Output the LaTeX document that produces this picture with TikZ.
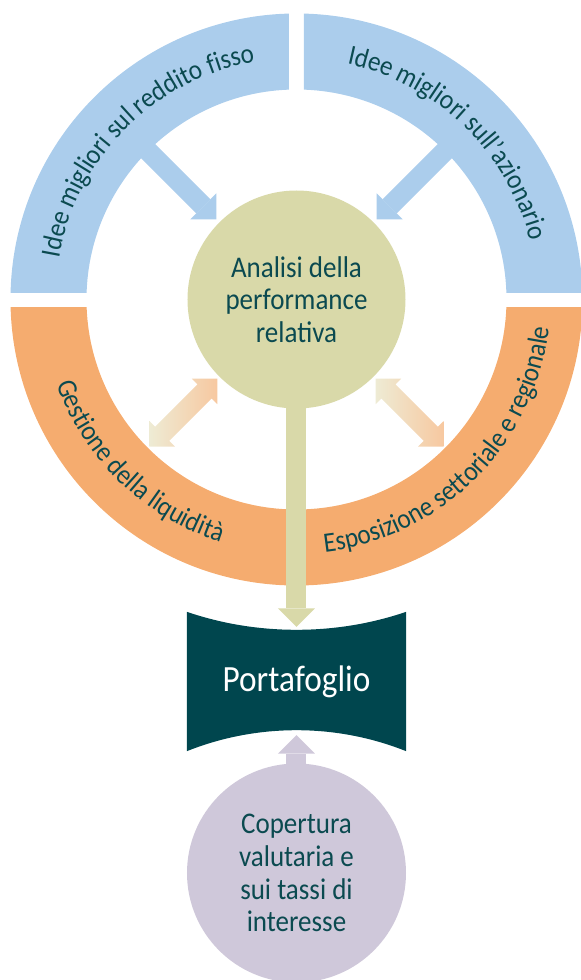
\documentclass[tikz,border=0pt]{standalone}
\usepackage{fontspec}
\setmainfont{Carlito}[FakeStretch=0.9]
\usetikzlibrary{arrows.meta,decorations.text,calc,backgrounds}

\definecolor{ringblue}{HTML}{ABCDEC}
\definecolor{ringorange}{HTML}{F5AC6F}
\definecolor{perfgreen}{HTML}{D9D9A9}
\definecolor{hedgelilac}{HTML}{CFC8DA}
\definecolor{portteal}{HTML}{00464E}
\definecolor{labelteal}{HTML}{0B4A50}
\definecolor{fadebeige}{HTML}{EEEBD4}
\definecolor{fadepeach}{HTML}{F7C8A0}

\tikzset{
  ringtext/.style={decorate,decoration={text along path,text align=center,
      text={|\fontsize{28}{32}\selectfont\color{labelteal}|#1}}},
  fatarrow/.style={line width=20pt,-{Triangle[length=18.5pt,width=37pt,line width=0pt]}},
  bubble/.style={circle,inner sep=0pt,minimum size=218pt,align=center,
      text=labelteal,font=\fontsize{30}{32.8}\selectfont}
}

\begin{document}
\begin{tikzpicture}[x=1pt,y=1pt]
  \useasboundingbox (-296.5,-680.5) rectangle (284.5,299.5);
  % outer ring, four quarters
  \foreach \sx/\sy/\col in {-1/1/ringblue,1/1/ringblue,-1/-1/ringorange,1/-1/ringorange}{
    \begin{scope}
      \clip (\sx*7.5,\sy*7.5) rectangle (\sx*300,\sy*300);
      \fill[\col,even odd rule] (0,0) circle (286) (0,0) circle (210);
    \end{scope}
  }
  \path[ringtext={Idee migliori sul reddito fisso}] (180:241) arc[start angle=180,end angle=90,radius=241];
  \path[ringtext={Idee migliori sull'azionario}] (91:241) arc[start angle=91,end angle=1,radius=241];
  \path[ringtext={Gestione della liquidità}] (181:254) arc[start angle=181,end angle=271,radius=254];
  \path[ringtext={Esposizione settoriale e regionale}] (270:254) arc[start angle=270,end angle=360,radius=254];

  \node[bubble,fill=perfgreen] (perf) at (0,0) {Analisi della\\performance\\relativa};
  \node[minimum width=219pt,minimum height=139pt,inner sep=0pt,text=white,
        font=\fontsize{37}{42}\selectfont] (port) at (0,-382) {Portafoglio};
  \begin{scope}[on background layer]
    \fill[portteal] (port.north west) .. controls +(70,-24) and +(-70,-24) .. (port.north east)
      -- (port.south east) .. controls +(-70,28) and +(70,28) .. (port.south west) -- cycle;
  \end{scope}
  \node[bubble,fill=hedgelilac,minimum size=219pt] (hedge) at (0,-573.5) {Copertura\\valutaria e\\sui tassi di\\interesse};

  % arrows
  \coordinate (fissoin) at (135:215);
  \coordinate (azionin) at (45:215);
  \draw[fatarrow,ringblue,shorten >=4pt] (fissoin) -- (perf);
  \draw[fatarrow,ringblue,shorten >=4pt] (azionin) -- (perf);
  \foreach \ang in {225,315}{
    \begin{scope}[shift={(\ang:160)},rotate=\ang]
      \shade[left color=fadebeige,right color=fadepeach] (-48,0) -- (-30,18) -- (-30,10) -- (30,10)
        -- (30,18) -- (48,0) -- (30,-18) -- (30,-10) -- (-30,-10) -- (-30,-18) -- cycle;
    \end{scope}
  }
  \draw[fatarrow,perfgreen] ($(perf.south)+(0,8)$) -- ($(port.north)+(0,-15)$);
  \draw[fatarrow,hedgelilac] ($(hedge.north)+(0,-5)$) -- ($(port.south)+(0,16)$);
\end{tikzpicture}
\end{document}
